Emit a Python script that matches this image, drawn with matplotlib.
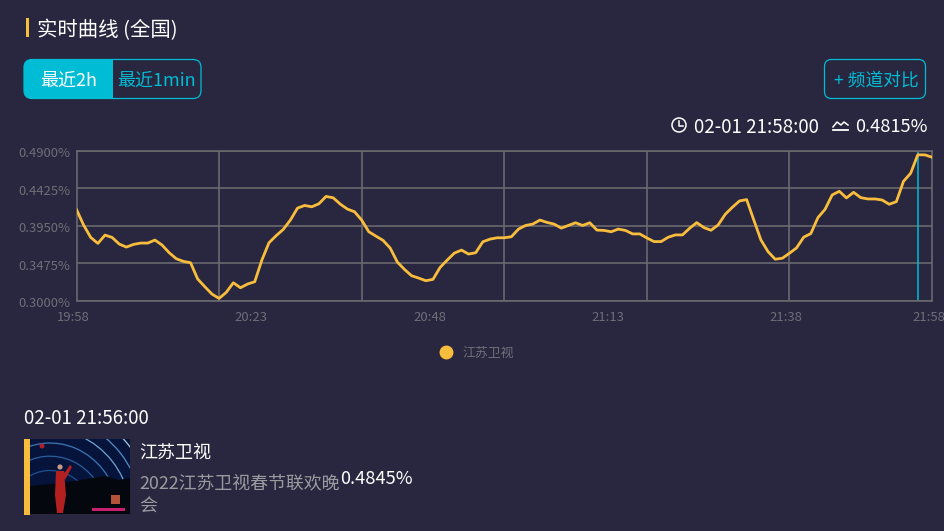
import numpy as np
import matplotlib
matplotlib.use('Agg')
import matplotlib.pyplot as plt
from matplotlib.patches import Circle, FancyBboxPatch, Rectangle, Polygon, Arc
from matplotlib.transforms import ScaledTranslation

plt.rcParams['font.family'] = ['Noto Sans CJK SC', 'DejaVu Sans']

# ratings per minute, 19:58 .. 21:58
ratings = [
    .4154, .3956, .3800, .3725, .3830, .3800, .3716, .3678, .3712, .3729,
    .3729, .3767, .3704, .3607, .3531, .3497, .3480, .3274, .3177, .3084,
    .3029, .3105, .3227, .3164, .3211, .3240, .3514, .3733, .3822, .3902,
    .4020, .4171, .4205, .4188, .4226, .4319, .4302, .4222, .4159, .4125,
    .4020, .3872, .3817, .3763, .3666, .3489, .3396, .3316, .3286, .3253,
    .3270, .3421, .3514, .3602, .3640, .3590, .3607, .3746, .3779, .3796,
    .3796, .3809, .3906, .3952, .3969, .4020, .3990, .3969, .3918, .3952,
    .3986, .3952, .3986, .3893, .3889, .3872, .3906, .3889, .3845, .3845,
    .3794, .3748, .3748, .3803, .3832, .3832, .3916, .3988, .3925, .3891,
    .3958, .4093, .4182, .4262, .4279, .4022, .3769, .3621, .3525, .3537,
    .3600, .3668, .3803, .3849, .4051, .4156, .4338, .4384, .4300, .4371,
    .4304, .4287, .4287, .4274, .4220, .4253, .4510, .4611, .4845, .4845,
    .4815,
]
y_ticks = [.30, .3475, .395, .4425, .49]
x_label_pos = [0, 25, 50, 75, 100, 120]
x_labels = ['19:58', '20:23', '20:48', '21:13', '21:38', '21:58']
x_grid_pos = [20, 40, 60, 80, 100]
cursor_pos = 118
channel = '江苏卫视'

BG = '#28273f'
YELLOW = '#f9bd3d'
CYAN = '#00bcd4'
GRID = '#69686f'
TICK = '#6e6e78'
W, H = 944, 531

fig = plt.figure(figsize=(W / 100, H / 100), dpi=100, facecolor=BG)

# main plot, box in pixels 76.5..932 / 150.5..300.7
ax = fig.add_axes([76.5 / W, 1 - 300.7 / H, 855.5 / W, 150.2 / H], facecolor=BG)
minutes = np.arange(len(ratings))
ax.plot(minutes, ratings, color=YELLOW, lw=2.0, label=channel, zorder=3, solid_joinstyle='round')
ax.axvline(cursor_pos, color=CYAN, lw=1.1, zorder=2)
ax.set_xlim(0, 120)
ax.set_ylim(.30, .49)
ax.set_yticks(y_ticks)
ax.set_yticklabels([f'{v:.4f}%' for v in y_ticks])
ax.set_xticks(x_label_pos)
ax.set_xticklabels(x_labels)
ax.set_xticks(x_grid_pos, minor=True)
ax.xaxis.remove_overlapping_locs = False
ax.grid(axis='y', color=GRID, lw=1.2)
ax.grid(axis='x', which='minor', color=GRID, lw=1.2)
ax.tick_params(which='both', length=0)
ax.tick_params(axis='y', labelsize=9.4, labelcolor=TICK, pad=4.5)
ax.tick_params(axis='x', labelsize=9.4, labelcolor=TICK, pad=7.2)
for s in ax.spines.values():
    s.set_color(GRID)
    s.set_linewidth(1.2)
# tick labels sit a little off their position in the original
xshift = ScaledTranslation(-3.5 / 100, 0, fig.dpi_scale_trans)
for lab in ax.get_xticklabels():
    lab.set_transform(lab.get_transform() + xshift)
yshift = ScaledTranslation(0, -1.5 / 100, fig.dpi_scale_trans)
for lab in ax.get_yticklabels():
    lab.set_transform(lab.get_transform() + yshift)

leg = ax.legend(loc='center', bbox_to_anchor=(480 / W, 1 - 353 / H), bbox_transform=fig.transFigure,
                frameon=False, fontsize=9.3, labelcolor=TICK, handlelength=0, handletextpad=1.3)
h = leg.legend_handles[0]
h.set_marker('o')
h.set_markersize(9)
h.set_markerfacecolor(YELLOW)
h.set_markeredgecolor(YELLOW)
h.set_linestyle('none')

# everything around the chart, drawn in pixel coords
ov = fig.add_axes([0, 0, 1, 1], facecolor='none', zorder=5)
ov.set_xlim(0, W)
ov.set_ylim(H, 0)
ov.axis('off')

ov.add_patch(Rectangle((26, 18), 3, 19, color=YELLOW, lw=0))
ov.text(37, 30, '实时曲线 (全国)', color='white', fontsize=14.7, va='center')

# range buttons
fill = FancyBboxPatch((24, 59.5), 177, 39, boxstyle='round,pad=0,rounding_size=8', fc=CYAN, ec='none')
ov.add_patch(fill)
fill.set_clip_path(Rectangle((24, 55), 89, 50, transform=ov.transData))
ov.add_patch(FancyBboxPatch((24, 59.5), 177, 39, boxstyle='round,pad=0,rounding_size=8', fc='none', ec=CYAN, lw=0.9))
ov.text(69, 81, '最近2h', color='white', fontsize=13, ha='center', va='center')
ov.text(156.5, 81, '最近1min', color=CYAN, fontsize=13, ha='center', va='center')

ov.add_patch(FancyBboxPatch((824.5, 59.5), 101, 39, boxstyle='round,pad=0,rounding_size=7', fc='none', ec=CYAN, lw=0.9))
ov.text(876, 81, '+ 频道对比', color=CYAN, fontsize=12.8, ha='center', va='center')

# current point readout
ov.add_patch(Circle((679, 125), 7, fc='none', ec='white', lw=1.1))
ov.plot([679, 679, 683], [120.5, 126, 126], color='white', lw=1.1)
ov.text(694, 127.5, '02-01 21:58:00', color='white', fontsize=13.5, va='center')
ov.plot([833, 837, 841, 844, 848], [127, 122, 125, 122, 125], color='white', lw=1.1)
ov.plot([833, 848], [130, 130], color='white', lw=1.3)
ov.text(855, 127.5, '0.4815%', color='white', fontsize=13.1, va='center')

# bottom card
ov.text(24, 419, '02-01 21:56:00', color='white', fontsize=13.5, va='center')
ov.add_patch(Rectangle((24, 439), 6, 76, color=YELLOW, lw=0))

# thumbnail stand-in, y axis is inverted here so the arcs use the lower angles
thumb = Rectangle((30, 439), 100, 75, fc='#06143c', ec='none')
ov.add_patch(thumb)
arc_radii = [45, 58, 70, 82, 93, 104, 116]
arc_colors = ['#1f4f8c', '#2a5f9e', '#3b78b5', '#6fa6d0', '#4f8fc6', '#a8cbe0', '#7fb2d8']
for r, c in zip(arc_radii, arc_colors):
    a = Arc((50, 520), 2 * r, 2.2 * r, theta1=240, theta2=345, color=c, lw=0.9)
    ov.add_patch(a)
    a.set_clip_path(thumb)
ov.add_patch(Circle((42, 446), 2.5, fc='#b0202a', ec='none'))
hills = Polygon([(30, 486), (50, 484), (75, 481), (92, 478), (106, 476), (118, 480), (130, 478), (130, 514), (30, 514)],
                fc='#05070f', ec='none')
ov.add_patch(hills)
ov.add_patch(Polygon([(56, 471), (64, 471), (66, 495), (63, 513), (57, 513), (55, 495)], fc='#b3201f', ec='none'))
ov.add_patch(Polygon([(63, 475), (70, 465), (72, 467), (65, 480)], fc='#b3201f', ec='none'))
ov.add_patch(Circle((60, 467), 2.6, fc='#c89a85', ec='none'))
ov.add_patch(Rectangle((92, 508), 33, 2.5, fc='#c8206e', ec='none'))
ov.add_patch(Rectangle((111, 495), 9, 9, fc='#b5533a', ec='none'))

ov.text(139, 453, channel, color='white', fontsize=13, va='center')
ov.text(139, 483, '2022江苏卫视春节联欢晚', color='#9a9a9f', fontsize=12.9, va='center')
ov.text(139, 507, '会', color='#9a9a9f', fontsize=12.9, va='center')
ov.text(340, 479, '0.4845%', color='white', fontsize=13.1, va='center')

fig.savefig('out.png', dpi=100, facecolor=BG)
